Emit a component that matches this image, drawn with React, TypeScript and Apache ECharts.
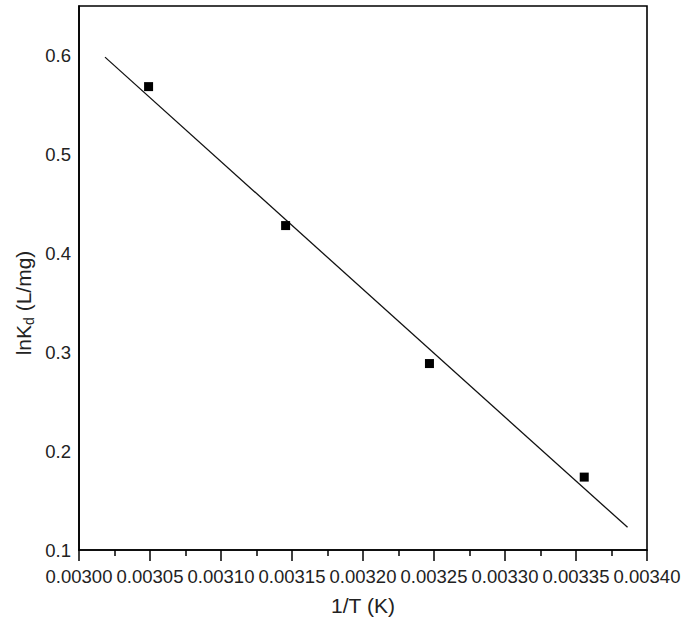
import React, { useEffect, useRef } from "react";
import * as echarts from "echarts";

const invT = [0.003049, 0.0031455, 0.0032468, 0.0033558];
const lnKd = [0.5685, 0.428, 0.2885, 0.1737];
const fitX = [0.0030183, 0.0033863];
const fitY = [0.5983, 0.1229];

const xTitle = "1/T (K)";
const FONT = "'Liberation Sans', Arial, Helvetica, sans-serif";

export default function App() {
  const ref = useRef<HTMLDivElement>(null);
  useEffect(() => {
    const chart = echarts.init(ref.current!, null, { renderer: "svg" });
    chart.setOption({
      animation: false,
      backgroundColor: "#fff",
      grid: {
        left: 79,
        right: 47,
        top: 6,
        bottom: 70,
        show: true,
        borderColor: "#000",
        borderWidth: 1.6,
        backgroundColor: "transparent",
      },
      xAxis: {
        type: "value",
        min: 0.003,
        max: 0.0034,
        interval: 0.00005,
        name: xTitle,
        nameLocation: "middle",
        nameGap: 45,
        nameTextStyle: { fontFamily: FONT, fontSize: 21, color: "#222" },
        axisLine: { show: true, lineStyle: { color: "#000", width: 1.6 } },
        axisTick: { show: true, length: 11, inside: false, lineStyle: { color: "#000", width: 1.5 } },
        minorTick: { show: true, splitNumber: 2, length: 6, lineStyle: { color: "#000", width: 1.5 } },
        splitLine: { show: false },
        axisLabel: {
          fontFamily: FONT,
          fontSize: 18.5,
          color: "#222",
          margin: 17,
          formatter: (v: number) => v.toFixed(5),
        },
      },
      yAxis: {
        type: "value",
        min: 0.1,
        max: 0.65,
        interval: 0.1,
        axisLine: { show: true, lineStyle: { color: "#000", width: 1.6 } },
        axisTick: { show: false },
        splitLine: { show: false },
        axisLabel: {
          fontFamily: FONT,
          fontSize: 18.5,
          color: "#222",
          margin: 8,
          showMaxLabel: false,
          formatter: (v: number) => (Math.abs(v * 10 - Math.round(v * 10)) < 1e-6 ? v.toFixed(1) : ""),
        },
      },
      graphic: [
        {
          type: "text",
          x: 23,
          y: 303,
          rotation: Math.PI / 2,
          style: {
            text: "{a|lnK}{b|d}{a| (L/mg)}",
            align: "center",
            verticalAlign: "middle",
            rich: {
              a: { fontFamily: FONT, fontSize: 21, fill: "#222" },
              b: { fontFamily: FONT, fontSize: 14, fill: "#222", padding: [11, 0, 0, 0] },
            },
          },
        },
      ],
      series: [
        {
          type: "line",
          data: fitX.map((x, i) => [x, fitY[i]]),
          showSymbol: false,
          symbol: "none",
          lineStyle: { color: "#111", width: 1.3 },
          silent: true,
          z: 1,
        },
        {
          type: "scatter",
          data: invT.map((x, i) => [x, lnKd[i]]),
          symbol: "rect",
          symbolSize: 9,
          itemStyle: { color: "#000", opacity: 1 },
          z: 2,
        },
      ],
    });
    return () => chart.dispose();
  }, []);
  return <div ref={ref} style={{ width: 694, height: 621, position: "absolute", left: 0, top: 0 }} />;
}
